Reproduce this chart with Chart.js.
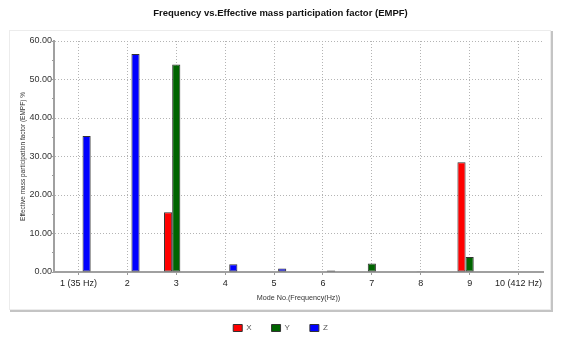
<!DOCTYPE html>
<html>
<head>
<meta charset="utf-8">
<script src="https://cdn.jsdelivr.net/npm/chart.js@4.4.1/dist/chart.umd.min.js"></script>
<style>
  body { margin: 0; background: #fff; }
  canvas { display: block; }
</style>
</head>
<body>
<canvas id="myChart" width="561" height="338"></canvas>
<script>
// modos y valores
const modos = ["1 (35 Hz)", "2", "3", "4", "5", "6", "7", "8", "9", "10 (412 Hz)"];
const valoresX = [null, null, 15.5, null, null, null, null, null, 28.5, null];
const valoresY = [null, null, 53.9, null, null, null, 2.2, 0.2, 3.9, null];
const valoresZ = [35.3, 56.6, null, 2.0, 0.9, 0.4, null, null, null, null];
const ticksY = [0, 10, 20, 30, 40, 50, 60];

const gris = "#b4b4b4";

// panel de fondo con sombra
const panel = {
  id: "panel",
  beforeDraw(chart) {
    const ctx = chart.ctx;
    ctx.save();
    ctx.fillStyle = "#fff";
    ctx.fillRect(0, 0, chart.width, chart.height);
    ctx.strokeStyle = "#ececec";
    ctx.lineWidth = 1;
    ctx.strokeRect(9.5, 30.5, 541, 279);
    ctx.strokeStyle = "#c4c4c4";
    ctx.lineWidth = 2;
    ctx.beginPath();
    ctx.moveTo(552, 31);
    ctx.lineTo(552, 311);
    ctx.lineTo(10, 311);
    ctx.stroke();
    ctx.restore();
  }
};

const datasets = [
  { label: "X", data: valoresX, backgroundColor: "#ff0000" },
  { label: "Y", data: valoresY, backgroundColor: "#006400" },
  { label: "Z", data: valoresZ, backgroundColor: "#0000ff" }
].map((d) => Object.assign(d, {
  borderColor: "#333",
  borderWidth: 1,
  borderSkipped: false,
  categoryPercentage: 0.5,
  barPercentage: 1.0
}));

const config = {
  type: "bar",
  data: { labels: modos, datasets },
  plugins: [panel],
  options: {
    responsive: false,
    animation: false,
    devicePixelRatio: 1,
    layout: { padding: { left: 0, right: 0, top: 0, bottom: -4 } },
    plugins: {
      title: {
        display: true,
        text: "Frequency vs.Effective mass participation factor (EMPF)",
        color: "#111",
        font: { family: "Liberation Sans", size: 9.5, weight: "bold" },
        padding: { top: 8, bottom: 21.6 }
      },
      legend: {
        position: "bottom",
        labels: {
          boxWidth: 9,
          boxHeight: 7,
          padding: 20,
          color: "#555",
          font: { family: "Liberation Sans", size: 8 }
        }
      },
      tooltip: { enabled: false }
    },
    scales: {
      x: {
        offset: true,
        grid: {
          offset: false,
          color: gris,
          tickColor: "#999",
          tickLength: 3
        },
        border: { color: "#a0a0a0", width: 2, dash: [1, 2] },
        ticks: {
          color: "#222",
          padding: 3,
          maxRotation: 0,
          autoSkip: false,
          font: { family: "Liberation Sans", size: 9 }
        },
        title: {
          display: true,
          text: "Mode No.(Frequency(Hz))",
          color: "#333",
          font: { family: "Liberation Sans", size: 7.2 },
          padding: { top: 2, bottom: 2 }
        },
        afterFit: (axis) => { axis.height = 32; }
      },
      y: {
        min: 0,
        max: 60,
        afterBuildTicks: (axis) => {
          // marcas menores cada 5
          const t = [];
          ticksY.forEach((v, i) => {
            t.push({ value: v });
            if (i < ticksY.length - 1) t.push({ value: v + 5 });
          });
          axis.ticks = t;
        },
        grid: {
          color: (c) => (c.tick && c.tick.value % 10 === 0 && c.tick.value > 0 ? gris : "transparent"),
          tickColor: "#999",
          tickLength: 2
        },
        border: { color: "#a0a0a0", width: 2, dash: [1, 2] },
        ticks: {
          color: "#333",
          padding: 0,
          font: { family: "Liberation Sans", size: 9 },
          callback: (v) => (v % 10 === 0 ? Number(v).toFixed(2) : "")
        },
        title: {
          display: true,
          text: "Effective mass participation factor (EMPF) %",
          color: "#333",
          font: { family: "Liberation Sans", size: 6.5 },
          padding: { top: 19, bottom: 0 }
        },
        afterFit: (axis) => { axis.width = 54; }
      },
      // eje vacio a la derecha, solo para dejar el margen
      margen: {
        position: "right",
        display: true,
        grid: { display: false },
        ticks: { display: false },
        border: { display: false },
        afterFit: (axis) => { axis.width = 18; }
      }
    }
  }
};

const myChart = document.getElementById("myChart");
new Chart(myChart, config);
</script>
</body>
</html>
